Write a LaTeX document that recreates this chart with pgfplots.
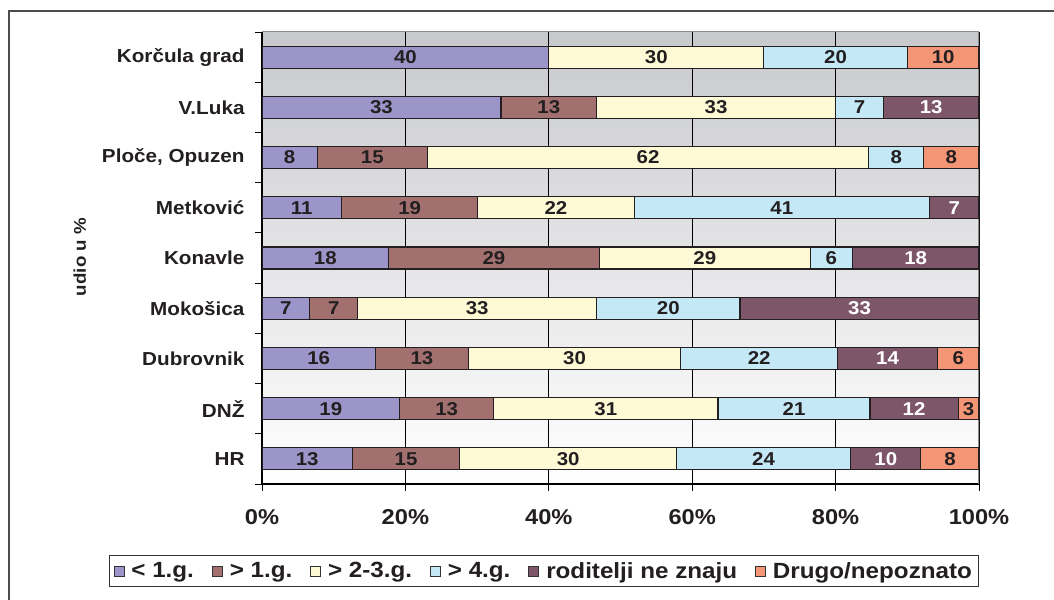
\documentclass[border=0pt]{standalone}
\usepackage{fontspec}
\setmainfont[FakeStretch=1.1]{Liberation Sans}
\usepackage{pgfplots}
\pgfplotsset{compat=1.18}

\definecolor{cA}{RGB}{155,149,201}
\definecolor{cB}{RGB}{163,112,112}
\definecolor{cC}{RGB}{255,250,214}
\definecolor{cD}{RGB}{197,232,247}
\definecolor{cE}{RGB}{126,86,106}
\definecolor{cF}{RGB}{244,150,118}
\definecolor{ink}{RGB}{35,31,32}
\definecolor{bgtop}{RGB}{200,201,205}

\begin{document}
\begin{tikzpicture}
\useasboundingbox (0bp,0bp) rectangle (1054bp,600bp);
% chart frame
\draw[line width=1.3bp, black!70] (9bp,-5bp) -- (9bp,589bp) -- (1060bp,589bp);
\begin{axis}[
  at={(262bp,116bp)}, anchor=south west,
  scale only axis, width=717bp, height=452bp,
  xbar stacked, bar width=22bp,
  xmin=0, xmax=100, ymin=-0.5, ymax=8.5,
  enlargelimits=false,
  axis x line*=bottom, axis y line*=left,
  x axis line style={line width=1.8bp, black},
  y axis line style={line width=1.2bp, black},
  axis background/.style={top color=bgtop, bottom color=white},
  xmajorgrids, major grid style={black, line width=0.9bp},
  tick align=outside, major tick length=7bp,
  tick style={black, line width=0.9bp},
  xtick={0,20,40,60,80,100},
  xticklabels={0\%,20\%,40\%,60\%,80\%,100\%},
  xticklabel style={font=\bfseries\fontsize{21.5bp}{24bp}\selectfont, text=ink, yshift=-15bp},
  ytick={-0.5,0.5,...,8.5}, yticklabels={},
  extra y ticks={0,1,2,3,4,5,6,7,8},
  extra y tick labels={HR,DNŽ,Dubrovnik,Mokošica,Konavle,Metković,{Ploče, Opuzen},V.Luka,Korčula grad},
  extra y tick style={major tick length=0pt, grid=none,
    yticklabel style={font=\bfseries\fontsize{18.8bp}{21bp}\selectfont, text=ink, xshift=-14bp}},
  ylabel={udio u \%},
  every axis y label/.style={at={(axis description cs:-0.254,0.502)}, rotate=90, anchor=center,
    font=\bfseries\fontsize{17bp}{19bp}\selectfont, text=ink},
  every axis plot/.append style={draw=ink, line width=1.1bp},
  point meta=explicit symbolic,
  nodes near coords,
  every node near coord/.append style={anchor=center, text=ink,
    font=\bfseries\fontsize{18.6bp}{20bp}\selectfont},
  legend columns=6,
  legend style={at={(0.393,-0.1925)}, anchor=center, draw=black!80, line width=0.8bp,
    font=\bfseries\fontsize{22bp}{26bp}\selectfont, text=ink,
    inner xsep=4bp, inner ysep=5bp,
    /tikz/every odd column/.append style={column sep=5bp},
    /tikz/every even column/.append style={column sep=16bp}},
  legend image code/.code={\draw[#1, draw=black!80, line width=0.8bp] (0bp,-5bp) rectangle (10bp,5bp);},
]
% rows: 0 HR, 1 DNZ, 2 Dubrovnik, 3 Mokosica, 4 Konavle, 5 Metkovic, 6 Ploce, 7 V.Luka, 8 Korcula
\addplot[fill=cA] coordinates {(12.6,0)[13] (19.2,1)[19] (15.8,2)[16] (6.67,3)[7] (17.65,4)[18] (11.1,5)[11] (7.69,6)[8] (33.33,7)[33] (40,8)[40]};
\addplot[fill=cB] coordinates {(15.0,0)[15] (13.1,1)[13] (13.0,2)[13] (6.67,3)[7] (29.41,4)[29] (19.0,5)[19] (15.38,6)[15] (13.33,7)[13] (0,8)[]};
\addplot[fill=cC] coordinates {(30.2,0)[30] (31.3,1)[31] (29.6,2)[30] (33.33,3)[33] (29.41,4)[29] (21.8,5)[22] (61.54,6)[62] (33.33,7)[33] (30,8)[30]};
\addplot[fill=cD] coordinates {(24.3,0)[24] (21.2,1)[21] (21.9,2)[22] (20,3)[20] (5.88,4)[6] (41.2,5)[41] (7.69,6)[8] (6.67,7)[7] (20,8)[20]};
\addplot[fill=cE, every node near coord/.append style={text=white}] coordinates {(9.8,0)[10] (12.3,1)[12] (13.9,2)[14] (33.33,3)[33] (17.65,4)[18] (6.9,5)[7] (0,6)[] (13.34,7)[13] (0,8)[]};
\addplot[fill=cF] coordinates {(8.1,0)[8] (2.9,1)[3] (5.8,2)[6] (0,3)[] (0,4)[] (0,5)[] (7.70,6)[8] (0,7)[] (10,8)[10]};
\legend{< 1.g., > 1.g., > 2-3.g., > 4.g., roditelji ne znaju, Drugo/nepoznato}
% top and right border of the plot area
\draw[black!45, line width=1bp] (rel axis cs:0,1) -- (rel axis cs:1,1);
\draw[black!45, line width=2.4bp] (rel axis cs:1,1) -- (rel axis cs:1,0);
\end{axis}
\end{tikzpicture}
\end{document}
